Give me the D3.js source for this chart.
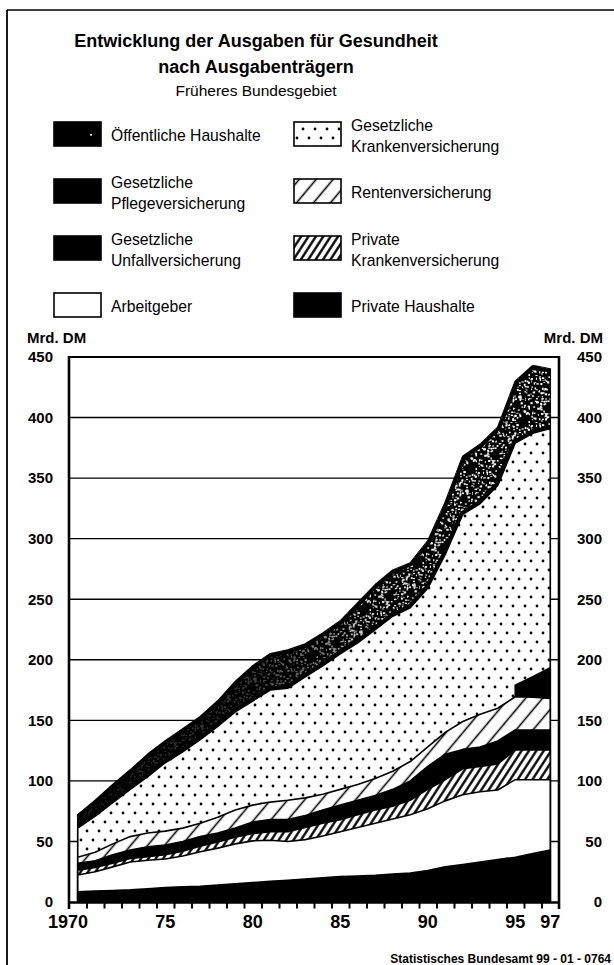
<!DOCTYPE html>
<html><head><meta charset="utf-8">
<script src="https://cdn.jsdelivr.net/npm/d3@7"></script>
<style>
html,body{margin:0;padding:0;background:#fff;}
svg{display:block;font-family:"Liberation Sans",Arial,Helvetica,sans-serif;}
</style></head><body>
<svg id="chart" width="614" height="965"></svg>
<script>
// ---------------- DATA (Mrd. DM) ----------------
const years = [1970,1971,1972,1973,1974,1975,1976,1977,1978,1979,1980,1981,1982,1983,1984,1985,1986,1987,1988,1989,1990,1991,1992,1993,1994,1995,1996,1997];
const privateHaushalte = [8.5,9,9.5,10,11,12,12.5,13,14,15,16,17,18,19,20,21,21.5,22,23,24,26,29,31,33,35,37,40,43];
const arbeitgeber = [13.8,16,19.5,23,23.5,23.5,25.5,28.5,30.5,33,34.5,34,32,32.5,34.5,37,40,43,45.5,48,51,54.5,57.5,58,57.5,64,61,58];
const privateKV = [4,3.5,3,3,3,3.5,4,4.5,5,5.5,6,7,8,10,10.5,10,10.5,11,10.5,12,16,17.5,21.5,21,21.5,24.5,24.5,24.5];
const unfallV = [5.7,5.5,7,7,8,8,8,8,7.5,7.5,9.5,10,10,10,11,12,12,12,14,16,19,21,16,16,19,16.5,16.5,16.5];
const rentenV = [5,7,9,11,11.5,11.5,11,11,13,15,14,14.5,16,14.5,13,13,13,14,15,16,16,18,23,27,27,27.5,27,26];
const pflegeV = [0,0,0,0,0,0,0,0,0,0,0,0,0,0,0,0,0,0,0,0,0,0,0,0,0,9.5,17,25.5];
const gesetzlKV = [24,30,34,39,46.5,56.5,63,69,75,81,86,92.5,92.5,100,106,112,117,123,128,127,131,147,171,174,184,200,201,197.5];
const oeffHaushalte = [11,13,15,16,18.5,18,19,19,21,25,29,30,31.5,27,27,27,33,37,38,37,39,43,48,49,48,51,56,49];

const yTickValues = [0,50,100,150,200,250,300,350,400,450];
const xLabelYears = [1970,1975,1980,1985,1990,1995,1997];
const xLabelTexts = ["1970","75","80","85","90","95","97"];

const titleLines = ["Entwicklung der Ausgaben für Gesundheit","nach Ausgabenträgern"];
const subtitle = "Früheres Bundesgebiet";
const unitLabel = "Mrd. DM";
const sourceLabel = "Statistisches Bundesamt 99 - 01 - 0764";

// stack order bottom -> top
const keys = ["ph","ag","pkv","uv","rv","pv","gkv","oeh"];
const seriesValues = {ph:privateHaushalte, ag:arbeitgeber, pkv:privateKV, uv:unfallV, rv:rentenV, pv:pflegeV, gkv:gesetzlKV, oeh:oeffHaushalte};
const fills = {ph:"#000", ag:"#fff", pkv:"url(#pkvHatch)", uv:"#000", rv:"url(#rvHatch)", pv:"#000", gkv:"url(#dots)", oeh:"#000"};

// legend (row-wise, left then right)
const legendKeys = ["oeh","gkv","pv","rv","uv","pkv","ag","ph"];
const legendLabels = [
  ["Öffentliche Haushalte"],
  ["Gesetzliche","Krankenversicherung"],
  ["Gesetzliche","Pflegeversicherung"],
  ["Rentenversicherung"],
  ["Gesetzliche","Unfallversicherung"],
  ["Private","Krankenversicherung"],
  ["Arbeitgeber"],
  ["Private Haushalte"]
];

// ---------------- CHART ----------------
const svg = d3.select("#chart");
const defs = svg.append("defs");

// dot pattern
const pd = defs.append("pattern").attr("id","dots").attr("patternUnits","userSpaceOnUse").attr("width",12).attr("height",18);
pd.append("rect").attr("width",12).attr("height",18).attr("fill","#fff");
pd.append("circle").attr("cx",3).attr("cy",3).attr("r",1.4).attr("fill","#000");
pd.append("circle").attr("cx",9).attr("cy",12).attr("r",1.4).attr("fill","#000");

function hatch(id, sp, ang, sw){
  const p = defs.append("pattern").attr("id",id).attr("patternUnits","userSpaceOnUse")
    .attr("width",sp).attr("height",sp).attr("patternTransform",`rotate(${ang})`);
  p.append("rect").attr("width",sp).attr("height",sp).attr("fill","#fff");
  p.append("line").attr("x1",sp/2).attr("x2",sp/2).attr("y1",-1).attr("y2",sp+1)
    .attr("stroke","#000").attr("stroke-width",sw);
}
hatch("rvHatch", 13, 40, 1.6);
hatch("pkvHatch", 6.2, 33, 2.3);

// speckle texture (white specks on transparent background, deterministic texture)
const sp = defs.append("pattern").attr("id","speck").attr("patternUnits","userSpaceOnUse").attr("width",53).attr("height",47);
let seed = 12345;
const nextT = () => { seed = (seed*1103515245 + 12345) % 2147483648; return seed/2147483648; };
for (let i=0;i<260;i++){
  const px = nextT()*53, py = nextT()*47;
  sp.append("rect").attr("x",px).attr("y",py)
    .attr("width",0.8+nextT()*1.6).attr("height",0.8+nextT()*1.4).attr("fill","#fff");
}
const grad = defs.append("linearGradient").attr("id","speckGrad").attr("gradientUnits","userSpaceOnUse")
  .attr("x1",77).attr("x2",550).attr("y1",0).attr("y2",0);
[[0,"#1a1a1a"],[0.35,"#3a3a3a"],[0.5,"#777"],[0.62,"#ddd"],[1,"#fff"]].forEach(s=>grad.append("stop").attr("offset",s[0]).attr("stop-color",s[1]));
defs.append("mask").attr("id","speckMask").attr("maskUnits","userSpaceOnUse")
  .attr("x",0).attr("y",0).attr("width",614).attr("height",965)
  .append("rect").attr("width",614).attr("height",965).attr("fill","url(#speckGrad)");

const x = d3.scaleLinear().domain([1969.5,1997.5]).range([69,559]);
const y = d3.scaleLinear().domain([0,450]).range([902,357]);

// frame lines
svg.append("line").attr("x1",7).attr("x2",614).attr("y1",10).attr("y2",10).attr("stroke","#000").attr("stroke-width",1.6);
svg.append("line").attr("x1",7).attr("x2",7).attr("y1",10).attr("y2",965).attr("stroke","#000").attr("stroke-width",1.8);

// title
const tg = svg.append("g").attr("text-anchor","middle");
tg.append("text").attr("x",256).attr("y",47).attr("font-size",18).attr("font-weight","bold").text(titleLines[0]);
tg.append("text").attr("x",256).attr("y",73).attr("font-size",18).attr("font-weight","bold").text(titleLines[1]);
tg.append("text").attr("x",256).attr("y",95.5).attr("font-size",15.5).text(subtitle);

// legend
const lg = svg.append("g");
legendKeys.forEach((k,i)=>{
  const col = i%2, row = Math.floor(i/2);
  const sx = col===0 ? 54 : 294, sy = 122 + row*57;
  lg.append("rect").attr("x",sx).attr("y",sy).attr("width",47).attr("height",24)
    .attr("fill",fills[k]).attr("stroke","#000").attr("stroke-width",1.6);
  const tx = sx + 57;
  const lines = legendLabels[i];
  lines.forEach((t,j)=>{
    const by = lines.length===1 ? sy+18.5 : sy+9+j*21;
    lg.append("text").attr("x",tx).attr("y",by).attr("font-size",15.7).text(t);
  });
});
lg.append("rect").attr("x",90).attr("y",134).attr("width",2).attr("height",1.6).attr("fill","#fff");

// gridlines (under the areas)
svg.append("g").selectAll("line").data(yTickValues.filter(v=>v>0 && v<450)).join("line")
  .attr("x1",69).attr("x2",559).attr("y1",d=>y(d)).attr("y2",d=>y(d))
  .attr("stroke","#000").attr("stroke-width",1.4);

// stacked data
const table = years.map((yr,i)=>{ const o={year:yr}; keys.forEach(k=>o[k]=seriesValues[k][i]); return o; });
const layers = d3.stack().keys(keys)(table);

const plot = svg.append("g");
// painter's order: from top layer down, each filled from baseline to its upper edge
for (let li = layers.length-1; li>=0; li--){
  const L = layers[li], k = L.key;
  const area = d3.area().x(d=>x(d.data.year)).y0(y(0)).y1(d=>y(d[1]));
  if (k==="pv") area.defined(d=>d.data.pv>0);
  plot.append("path").datum(L).attr("d",area)
    .attr("fill",fills[k]).attr("stroke","#000").attr("stroke-width",1.6).attr("stroke-linejoin","round");
  if (k==="oeh"){
    plot.append("path").datum(L).attr("d",area).attr("fill","url(#speck)").attr("mask","url(#speckMask)");
    const band = d3.area().x(d=>x(d.data.year)).y0(d=>y(d[0])).y1(d=>y(d[1]));
    defs.append("clipPath").attr("id","oehClip").append("path").datum(L).attr("d",band);
    const eg = plot.append("g").attr("clip-path","url(#oehClip)");
    const topLine = d3.line().x(d=>x(d.data.year)).y(d=>y(d[1]));
    const botLine = d3.line().x(d=>x(d.data.year)).y(d=>y(d[0]));
    eg.append("path").datum(L).attr("d",topLine).attr("fill","none").attr("stroke","#000").attr("stroke-width",7).attr("stroke-linejoin","round");
    eg.append("path").datum(L).attr("d",botLine).attr("fill","none").attr("stroke","#000").attr("stroke-width",7).attr("stroke-linejoin","round");
  }
}

// axes frame
svg.append("line").attr("x1",68).attr("x2",560).attr("y1",y(450)).attr("y2",y(450)).attr("stroke","#000").attr("stroke-width",2);
svg.append("line").attr("x1",69).attr("x2",69).attr("y1",y(450)-1).attr("y2",909).attr("stroke","#000").attr("stroke-width",2.6);
svg.append("line").attr("x1",559).attr("x2",559).attr("y1",y(450)-1).attr("y2",909).attr("stroke","#000").attr("stroke-width",2.6);

// x axis with ticks at year boundaries
const boundaries = years.slice(0,-1).map(v=>v+0.5);
const xAxis = svg.append("g").attr("transform",`translate(0,${y(0)})`)
  .call(d3.axisBottom(x).tickValues(boundaries).tickSize(6.5).tickFormat("").tickSizeOuter(0));
xAxis.select(".domain").attr("stroke","#000").attr("stroke-width",2.6).attr("d",`M69,0.5H559`);
xAxis.selectAll(".tick line").attr("stroke","#000").attr("stroke-width",2);

const xl = svg.append("g").attr("font-size",18).attr("font-weight","bold");
xLabelYears.forEach((yr,i)=>{
  const t = xLabelTexts[i];
  if (t.length===4){
    xl.append("text").attr("x",x(yr)+10.3).attr("y",928).attr("text-anchor","end").text(t);
  } else {
    xl.append("text").attr("x",x(yr)).attr("y",928).attr("text-anchor","middle").text(t);
  }
});

// y axes labels
const yl = svg.append("g").attr("transform","translate(69,0)")
  .call(d3.axisLeft(y).tickValues(yTickValues).tickSize(0).tickPadding(16).tickFormat(d3.format("d")));
yl.select(".domain").remove();
yl.selectAll("text").attr("font-size",15).attr("font-weight","bold").attr("fill","#000")
  .attr("font-family","'Liberation Sans',Arial,Helvetica,sans-serif");
const yr = svg.append("g").attr("transform","translate(559,0)")
  .call(d3.axisRight(y).tickValues(yTickValues).tickSize(0).tickPadding(43).tickFormat(d3.format("d")));
yr.select(".domain").remove();
yr.selectAll("text").attr("text-anchor","end").attr("font-size",15).attr("font-weight","bold").attr("fill","#000")
  .attr("font-family","'Liberation Sans',Arial,Helvetica,sans-serif");

svg.append("text").attr("x",27).attr("y",343).attr("font-size",15).attr("font-weight","bold").text(unitLabel);
svg.append("text").attr("x",603).attr("y",343).attr("text-anchor","end").attr("font-size",15).attr("font-weight","bold").text(unitLabel);

svg.append("text").attr("x",611).attr("y",963).attr("text-anchor","end").attr("font-size",12).attr("font-weight","bold").text(sourceLabel);
</script>
</body></html>
